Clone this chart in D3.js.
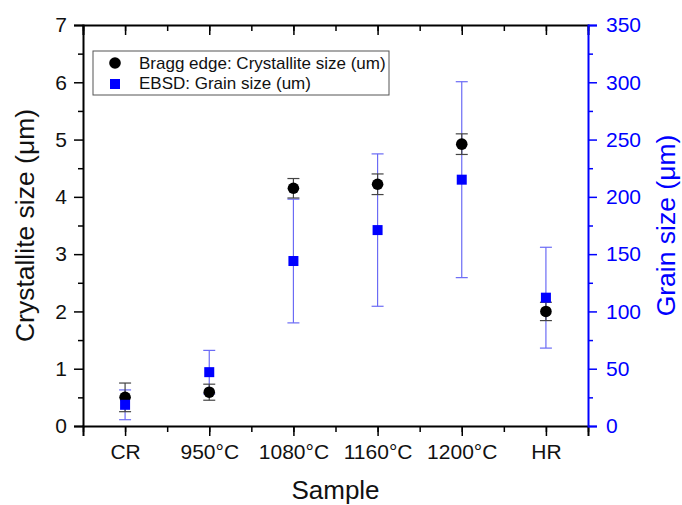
<!DOCTYPE html>
<html lang="en">
<head>
<meta charset="utf-8">
<title>Crystallite and grain size</title>
<script src="https://cdn.jsdelivr.net/npm/d3@7"></script>
<style>
  html, body { margin: 0; padding: 0; background: #fff; overflow: hidden; }
  text { font-family: "Liberation Sans", Arial, sans-serif; }
</style>
</head>
<body>
<div id="chart"></div>
<script>
// data
var samples = ["CR", "950°C", "1080°C", "1160°C", "1200°C", "HR"];
var braggSize = [0.50, 0.59, 4.15, 4.22, 4.92, 2.00];
var braggErr = [0.25, 0.14, 0.17, 0.18, 0.18, 0.16];
var grainSize = [18.5, 47, 144, 171, 215, 112];
var grainErr = [13, 19, 54, 66.5, 85.5, 44];
var leftTicks = [0, 1, 2, 3, 4, 5, 6, 7];
var rightTicks = [0, 50, 100, 150, 200, 250, 300, 350];
var legendLabels = ["Bragg edge: Crystallite size (um)", "EBSD: Grain size (um)"];

var w = 682, h = 505;
var margin = {top: 25, right: 94, bottom: 79, left: 83};
var pw = w - margin.left - margin.right;
var ph = h - margin.top - margin.bottom;

var svg = d3.select("#chart").append("svg")
    .attr("width", w)
    .attr("height", h);

var g = svg.append("g")
    .attr("transform", "translate(" + margin.left + "," + margin.top + ")");

var x = d3.scaleLinear().domain([-0.5, 5.5]).range([0, pw]);
var yL = d3.scaleLinear().domain([0, 7]).range([ph, 0]);
var yR = d3.scaleLinear().domain([0, 350]).range([ph, 0]);

var idx = d3.range(samples.length);
var minorX = d3.range(-0.5, 5.51, 0.5);

// bottom axis: majors at samples, minors in between
g.append("g")
    .attr("transform", "translate(0," + ph + ")")
    .call(d3.axisBottom(x).tickValues(minorX).tickSize(6).tickFormat(""))
    .call(function(a){ a.select(".domain").remove(); a.selectAll("line").attr("stroke-width", 1.5); });
var xAx = g.append("g")
    .attr("transform", "translate(0," + ph + ")")
    .call(d3.axisBottom(x).tickValues(idx).tickSize(10).tickPadding(8)
      .tickFormat(function(d){ return samples[d]; }));
xAx.select(".domain").attr("stroke-width", 2);
xAx.selectAll("line").attr("stroke-width", 1.5);
xAx.selectAll("text").attr("font-size", 21).attr("fill", "#111");

// top axis, ticks inward
g.append("g")
    .call(d3.axisTop(x).tickValues(minorX).tickSize(-6).tickFormat(""))
    .call(function(a){ a.select(".domain").remove(); a.selectAll("line").attr("stroke-width", 1.5); });
var xTop = g.append("g")
    .call(d3.axisTop(x).tickValues(idx).tickSize(-10).tickFormat(""));
xTop.select(".domain").attr("stroke-width", 2);
xTop.selectAll("line").attr("stroke-width", 1.5);

// left axis
g.append("g")
    .call(d3.axisLeft(yL).tickValues(d3.range(0.5, 7, 1)).tickSize(5).tickFormat(""))
    .call(function(a){ a.select(".domain").remove(); a.selectAll("line").attr("stroke-width", 1.5); });
var yAx = g.append("g")
    .call(d3.axisLeft(yL).tickValues(leftTicks).tickSize(9).tickPadding(7).tickFormat(d3.format("d")));
yAx.select(".domain").attr("stroke-width", 2);
yAx.selectAll("line").attr("stroke-width", 1.5);
yAx.selectAll("text").attr("font-size", 21).attr("fill", "#111");

// right axis (blue)
var blue = "#0000ff";
g.append("g")
    .attr("transform", "translate(" + pw + ",0)")
    .call(d3.axisRight(yR).tickValues(d3.range(25, 350, 50)).tickSize(5).tickFormat(""))
    .call(function(a){ a.select(".domain").remove(); a.selectAll("line").attr("stroke", blue).attr("stroke-width", 1.5); });
var yRAx = g.append("g")
    .attr("transform", "translate(" + pw + ",0)")
    .call(d3.axisRight(yR).tickValues(rightTicks).tickSize(9).tickPadding(9));
yRAx.select(".domain").attr("stroke", blue).attr("stroke-width", 2);
yRAx.selectAll("line").attr("stroke", blue).attr("stroke-width", 1.5);
yRAx.selectAll("text").attr("font-size", 21).attr("fill", blue);

// axis titles
svg.append("text")
    .attr("x", margin.left + pw / 2)
    .attr("y", 499)
    .attr("text-anchor", "middle")
    .attr("font-size", 26)
    .attr("fill", "#111")
    .text("Sample");

svg.append("text")
    .attr("transform", "translate(34," + (margin.top + ph / 2) + ") rotate(-90)")
    .attr("text-anchor", "middle")
    .attr("font-size", 26.5)
    .attr("fill", "#111")
    .text("Crystallite size (μm)");

svg.append("text")
    .attr("transform", "translate(675," + (margin.top + ph / 2) + ") rotate(-90)")
    .attr("text-anchor", "middle")
    .attr("font-size", 26.5)
    .attr("fill", blue)
    .text("Grain size (μm)");

// error bars
function errBars(vals, errs, yScale, color, cls) {
  var eb = g.append("g").attr("class", cls)
      .selectAll("g").data(idx).enter().append("g")
      .attr("stroke", color).attr("stroke-width", 1.2);
  eb.append("line")
      .attr("x1", function(i){ return x(i); })
      .attr("x2", function(i){ return x(i); })
      .attr("y1", function(i){ return yScale(vals[i] - errs[i]); })
      .attr("y2", function(i){ return yScale(vals[i] + errs[i]); });
  [-1, 1].forEach(function(s){
    eb.append("line")
        .attr("x1", function(i){ return x(i) - 6; })
        .attr("x2", function(i){ return x(i) + 6; })
        .attr("y1", function(i){ return yScale(vals[i] + s * errs[i]); })
        .attr("y2", function(i){ return yScale(vals[i] + s * errs[i]); });
  });
}
errBars(grainSize, grainErr, yR, "#6b6bf5", "grainErr");
errBars(braggSize, braggErr, yL, "#444", "braggErr");

g.selectAll("circle.bragg")
    .data(idx).enter().append("circle")
    .attr("class", "bragg")
    .attr("cx", function(i){ return x(i); })
    .attr("cy", function(i){ return yL(braggSize[i]); })
    .attr("r", 5.8)
    .attr("fill", "#000");

g.selectAll("rect.grain")
    .data(idx).enter().append("rect")
    .attr("class", "grain")
    .attr("x", function(i){ return x(i) - 5; })
    .attr("y", function(i){ return yR(grainSize[i]) - 5; })
    .attr("width", 10)
    .attr("height", 10)
    .attr("fill", blue);

// legend
var lg = svg.append("g").attr("transform", "translate(93,51)");
lg.append("rect")
    .attr("width", 296).attr("height", 44)
    .attr("fill", "#fff").attr("stroke", "#555").attr("stroke-width", 1);
lg.append("circle").attr("cx", 22).attr("cy", 12).attr("r", 5.8).attr("fill", "#000");
lg.append("rect").attr("x", 17).attr("y", 28).attr("width", 10).attr("height", 10).attr("fill", blue);
lg.selectAll("text.lab")
    .data(legendLabels).enter().append("text")
    .attr("class", "lab")
    .attr("x", 46)
    .attr("y", function(d, i){ return 18 + i * 20; })
    .attr("font-size", 17)
    .attr("fill", "#111")
    .text(function(d){ return d; });
</script>
</body>
</html>
